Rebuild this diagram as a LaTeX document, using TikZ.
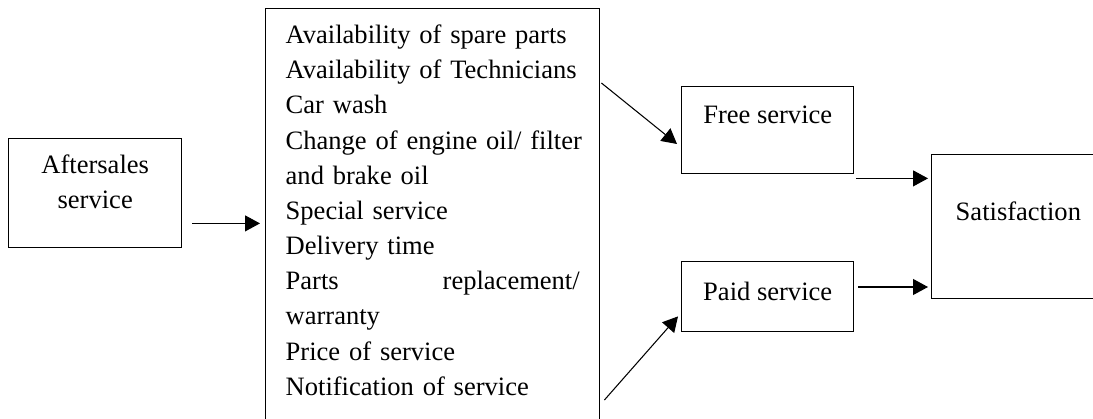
\documentclass[tikz,border=0pt]{standalone}
\usepackage{fontspec}
\setmainfont{Liberation Serif}
\usetikzlibrary{arrows.meta}

\begin{document}
\begin{tikzpicture}[font=\fontsize{15.1pt}{20pt}\selectfont,
                    box/.style={draw,line width=0.8pt,inner sep=0pt,anchor=north west},
                    arr/.style={-{Triangle[length=3mm,width=3.2mm]},line width=0.6pt}]
            \useasboundingbox (0,0) rectangle (21.86,8.38);
            \clip (0,0) rectangle (21.86,8.38);

            \node[box,minimum width=3.46cm,align=center,text height=1.4cm,text depth=0.78cm] (after) at (0.16,5.62) {Aftersales\\service};

            \node[box,text width=5.88cm,inner xsep=0.4cm,align=left,text height=0.7cm,text depth=7.8cm] (items) at (5.3,8.22)
                {Availability of spare parts\\
                 Availability of Technicians\\
                 Car wash\\
                 \mbox{Change of engine oil/ filter}\\
                 and brake oil\\
                 Special service\\
                 Delivery time\\
                 Parts\hfill replacement/\\
                 warranty\\
                 Price of service\\
                 Notification of service};

            \node[box,minimum width=3.44cm,text height=0.74cm,text depth=1cm] (free) at (13.62,6.66) {Free service};
            \node[box,minimum width=3.44cm,text height=0.78cm,text depth=0.62cm] (paid) at (13.62,3.16) {Paid service};
            \node[box,inner xsep=0.48cm,text height=1.32cm,text depth=1.56cm] (sat) at (18.62,5.3) {Satisfaction};

            % arrow ends
            \coordinate (afterout) at ([shift={(0.2,0.5)}]after.south east);
            \coordinate (freeout) at ([shift={(0.04,-0.08)}]free.south east);
            \coordinate (paidout) at ([shift={(0.08,-0.52)}]paid.north east);

            \draw[arr,shorten >=0.1cm] (afterout) -- (afterout -| items.west);
            \draw[arr] ([shift={(0.02,-1.5)}]items.north east) -- ([shift={(-0.08,-1.16)}]free.north west);
            \draw[arr] ([shift={(0.08,-7.84)}]items.north east) -- ([shift={(-0.06,0.32)}]paid.south west);
            \draw[arr,shorten >=0.06cm] (freeout) -- (freeout -| sat.west);
            \draw[arr,shorten >=0.06cm] (paidout) -- (paidout -| sat.west);
\end{tikzpicture}
\end{document}
